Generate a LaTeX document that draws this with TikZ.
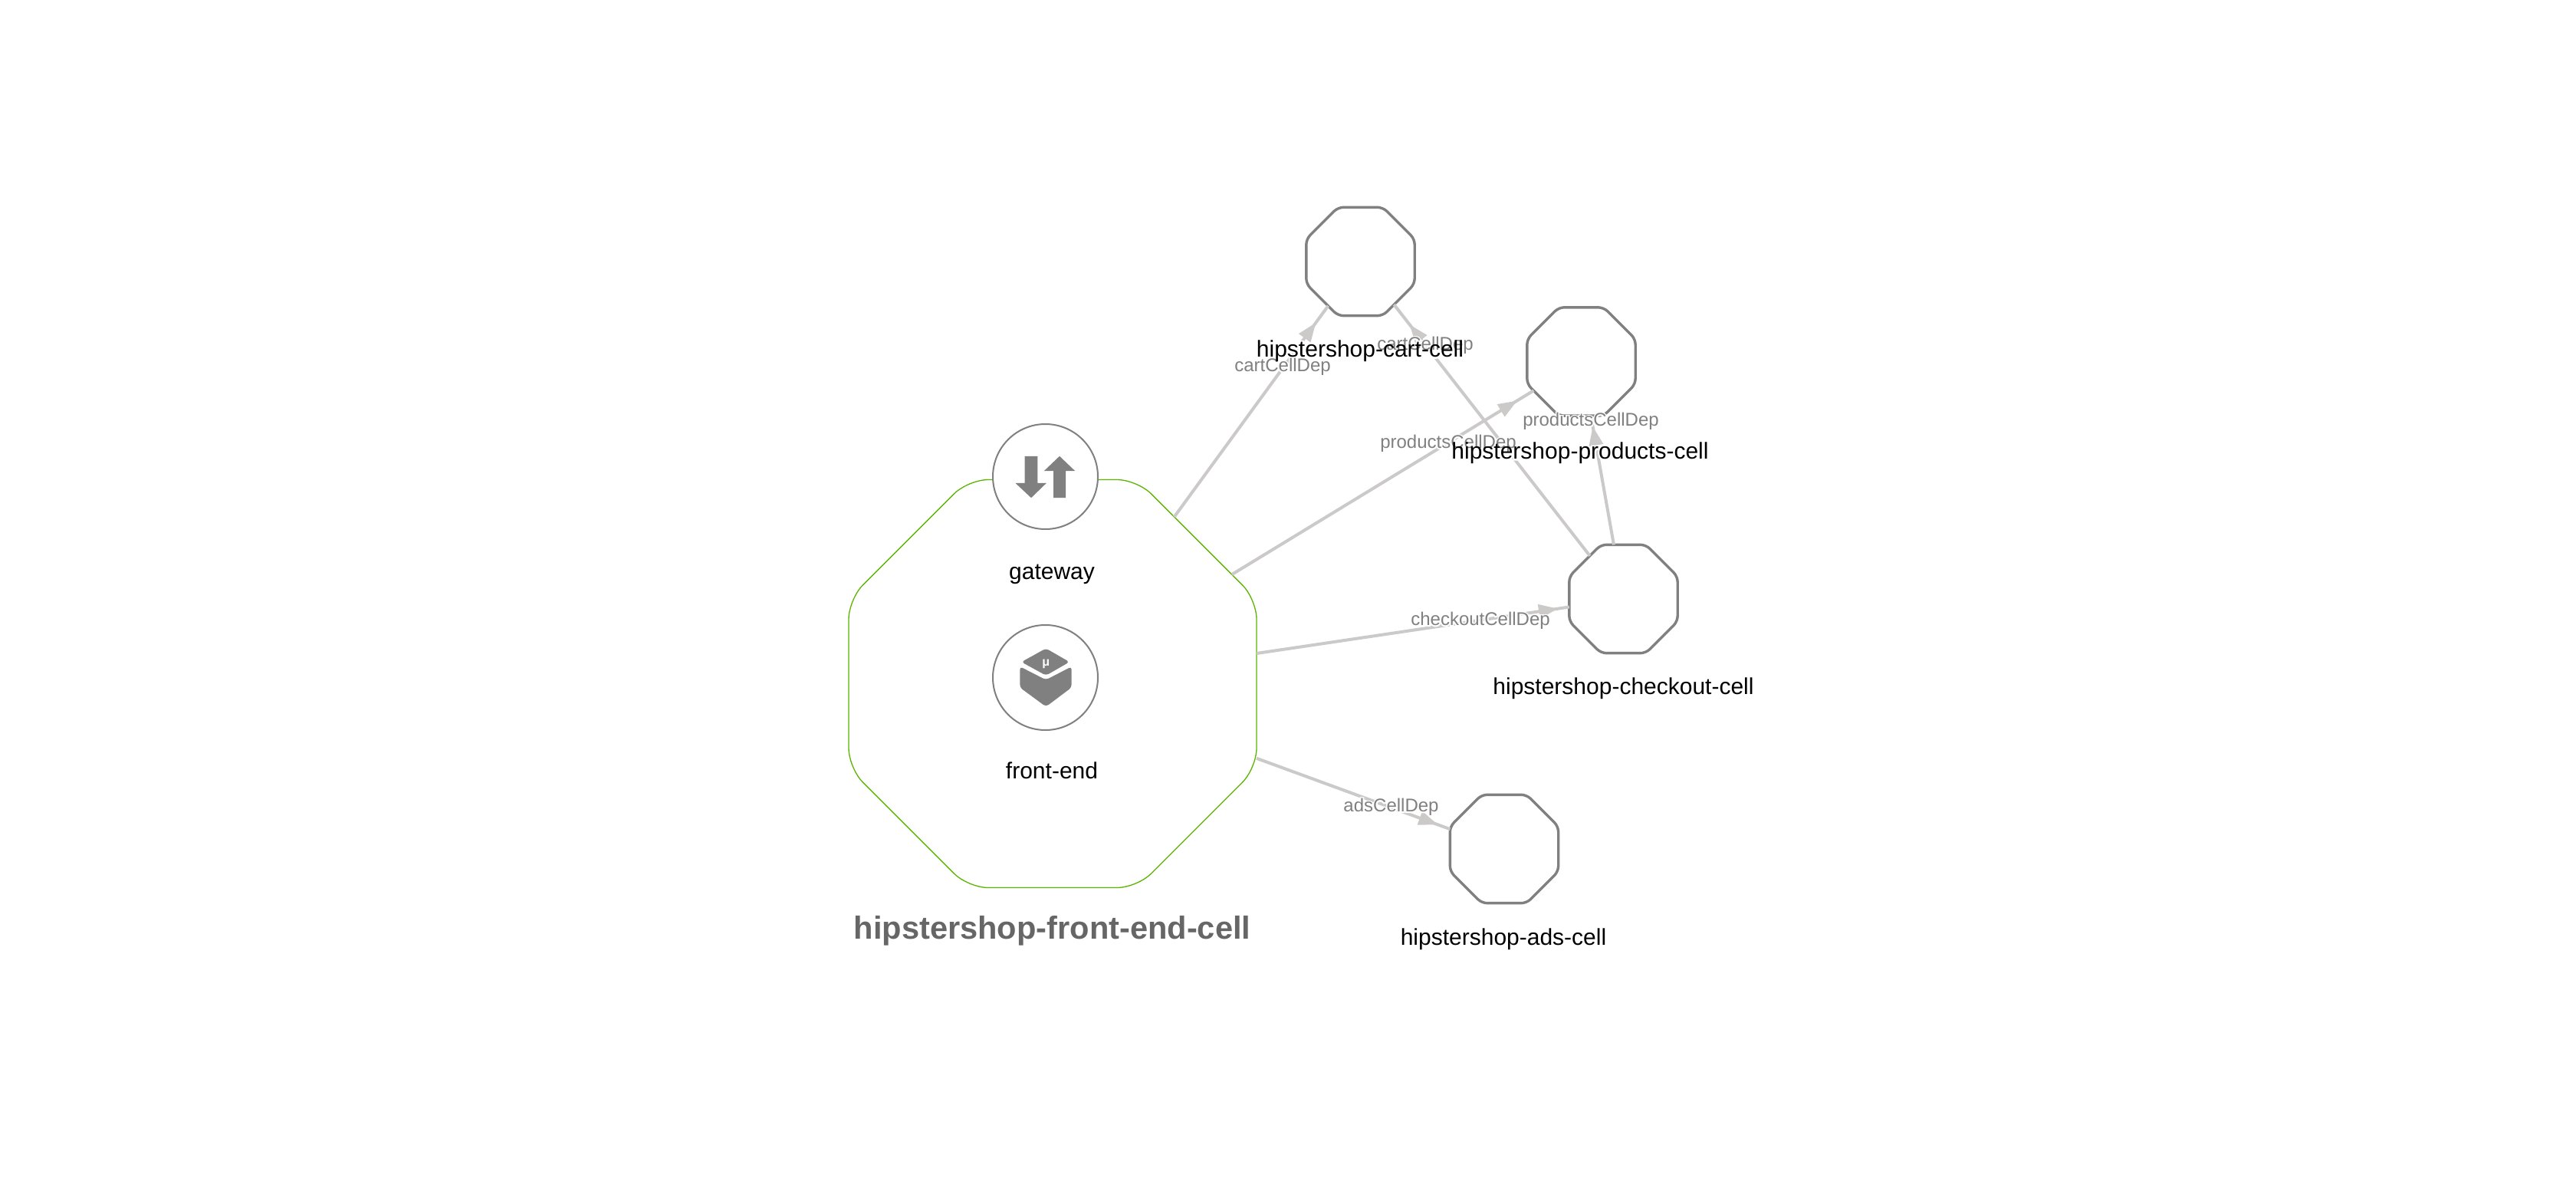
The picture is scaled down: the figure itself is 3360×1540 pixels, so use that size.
\documentclass[tikz,border=0pt]{standalone}
\usepackage{fontspec}
\setmainfont{Liberation Sans}
\newfontfamily\halofont[FakeBold=14]{Liberation Sans}
\usetikzlibrary{shapes.geometric,arrows.meta,decorations.markings}
\definecolor{edgegray}{HTML}{CCC9C9}
\definecolor{cellgreen}{HTML}{5AB400}
\definecolor{bordergray}{HTML}{808080}
\definecolor{titlegray}{HTML}{666666}
\tikzset{
  x=0.5pt,y=-0.5pt,
  bigcell/.style={regular polygon,regular polygon sides=8,minimum size=287.9pt,inner sep=0,outer sep=0,draw=cellgreen,line width=0.65pt,fill=white,rounded corners=13pt},
  cell/.style={regular polygon,regular polygon sides=8,minimum size=76.5pt,inner sep=0,outer sep=0,draw=bordergray,line width=1.7pt,fill=white,rounded corners=3.5pt},
  comp/.style={circle,minimum size=68.5pt,inner sep=0,outer sep=0,draw=bordergray,line width=1pt,fill=white},
  dep/.style={draw=edgegray,line width=2pt,postaction={decorate},
    decoration={markings,mark=at position -#1pt with {\arrow[edgegray]{Triangle[length=12.5pt,width=9pt]}}}},
  deplabel/.style={anchor=base,inner sep=0,text=bordergray,font=\fontsize{12pt}{14pt}\selectfont},
  dephalo/.style={anchor=base,inner sep=0,text=white,font=\fontsize{12pt}{14pt}\halofont},
  celllabel/.style={anchor=base,inner sep=0,text=black,font=\fontsize{15pt}{17pt}\selectfont},
  cellhalo/.style={anchor=base,inner sep=0,text=white,font=\fontsize{15pt}{17pt}\halofont},
  titlelabel/.style={anchor=base,inner sep=0,text=titlegray,font=\fontsize{20.8pt}{23pt}\selectfont\bfseries},
  icon/.style={fill=bordergray,draw=none},
}
\begin{document}
\begin{tikzpicture}
\useasboundingbox (0,-1.5) rectangle (3360,1538.5);
\fill[white] (0,-1.5) rectangle (3360,1538.5);
% cells
\node[bigcell] (frontcell) at (1373,890) {};
\node[cell] (cart) at (1774.5,339.5) {};
\node[cell] (products) at (2062.5,470) {};
\node[cell] (checkout) at (2117.5,779.5) {};
\node[cell] (ads) at (1962,1105.5) {};
\node[comp] (gateway) at (1363.5,620) {};
\node[comp] (frontend) at (1363.5,882) {};
% connectors
\draw[dep=13.5] (frontcell) -- (cart);
\draw[dep=16.5] (checkout) -- (cart);
\draw[dep=12.5] (frontcell) -- (products);
\draw[dep=7] (checkout) -- (products);
\draw[dep=7.5] (frontcell) -- (checkout);
\draw[dep=8.5] (frontcell) -- (ads);
% white halos under the labels: they interrupt the connectors
\node[dephalo] (h1) at (1673,483) {cartCellDep};
\node[dephalo] (h2) at (1859,455) {cartCellDep};
\node[dephalo] (h3) at (1889,583) {productsCellDep};
\node[dephalo] (h4) at (2075,554) {productsCellDep};
\node[dephalo] (h5) at (1931,814) {checkoutCellDep};
\node[dephalo] (h6) at (1814.5,1057) {adsCellDep};
\node[cellhalo] (h7) at (1774,464) {hipstershop-cart-cell};
\node[cellhalo] (h8) at (2061,597) {hipstershop-products-cell};
\node[cellhalo] (h9) at (2117.5,904) {hipstershop-checkout-cell};
\node[cellhalo] (h10) at (1961,1231) {hipstershop-ads-cell};
% connector labels
\node[deplabel] (l1) at (1673,483) {cartCellDep};
\node[deplabel] (l2) at (1859,455) {cartCellDep};
\node[deplabel] (l3) at (1889,583) {productsCellDep};
\node[deplabel] (l4) at (2075,554) {productsCellDep};
\node[deplabel] (l5) at (1931,814) {checkoutCellDep};
\node[deplabel] (l6) at (1814.5,1057) {adsCellDep};
% node labels
\node[celllabel] (t1) at (1774,464) {hipstershop-cart-cell};
\node[celllabel] (t2) at (2061,597) {hipstershop-products-cell};
\node[celllabel] (t3) at (2117.5,904) {hipstershop-checkout-cell};
\node[celllabel] (t4) at (1961,1231) {hipstershop-ads-cell};
\node[celllabel] (t5) at (1372,754) {gateway};
\node[celllabel] (t6) at (1372,1014) {front-end};
\node[titlelabel] (t7) at (1372.5,1223) {hipstershop-front-end-cell};
% gateway icon
\fill[icon] (1336.7,593.3) -- (1353.3,593.3) -- (1353.3,628.3) -- (1365,628.3) -- (1345,647.7) -- (1324.3,628.3) -- (1336.7,628.3) -- cycle;
\fill[icon] (1382,593.3) -- (1402.3,612.7) -- (1390,612.7) -- (1390,647.7) -- (1374,647.7) -- (1374,612.7) -- (1361.7,612.7) -- cycle;
% micro-service icon
\fill[icon,rounded corners=2pt] (1364.3,844) -- (1395,861.7) -- (1364.3,879.3) -- (1332.3,861.7) -- cycle;
\fill[icon,rounded corners=2pt] (1330.3,867.7) -- (1364.3,885) -- (1397.7,867.7) -- (1397.7,895) -- (1364.3,920) -- (1330.3,895) -- cycle;
\node[anchor=center,inner sep=0,text=white,font=\fontsize{8pt}{9pt}\selectfont\bfseries] (mu) at (1364.3,864) {μ};
\end{tikzpicture}
\end{document}
